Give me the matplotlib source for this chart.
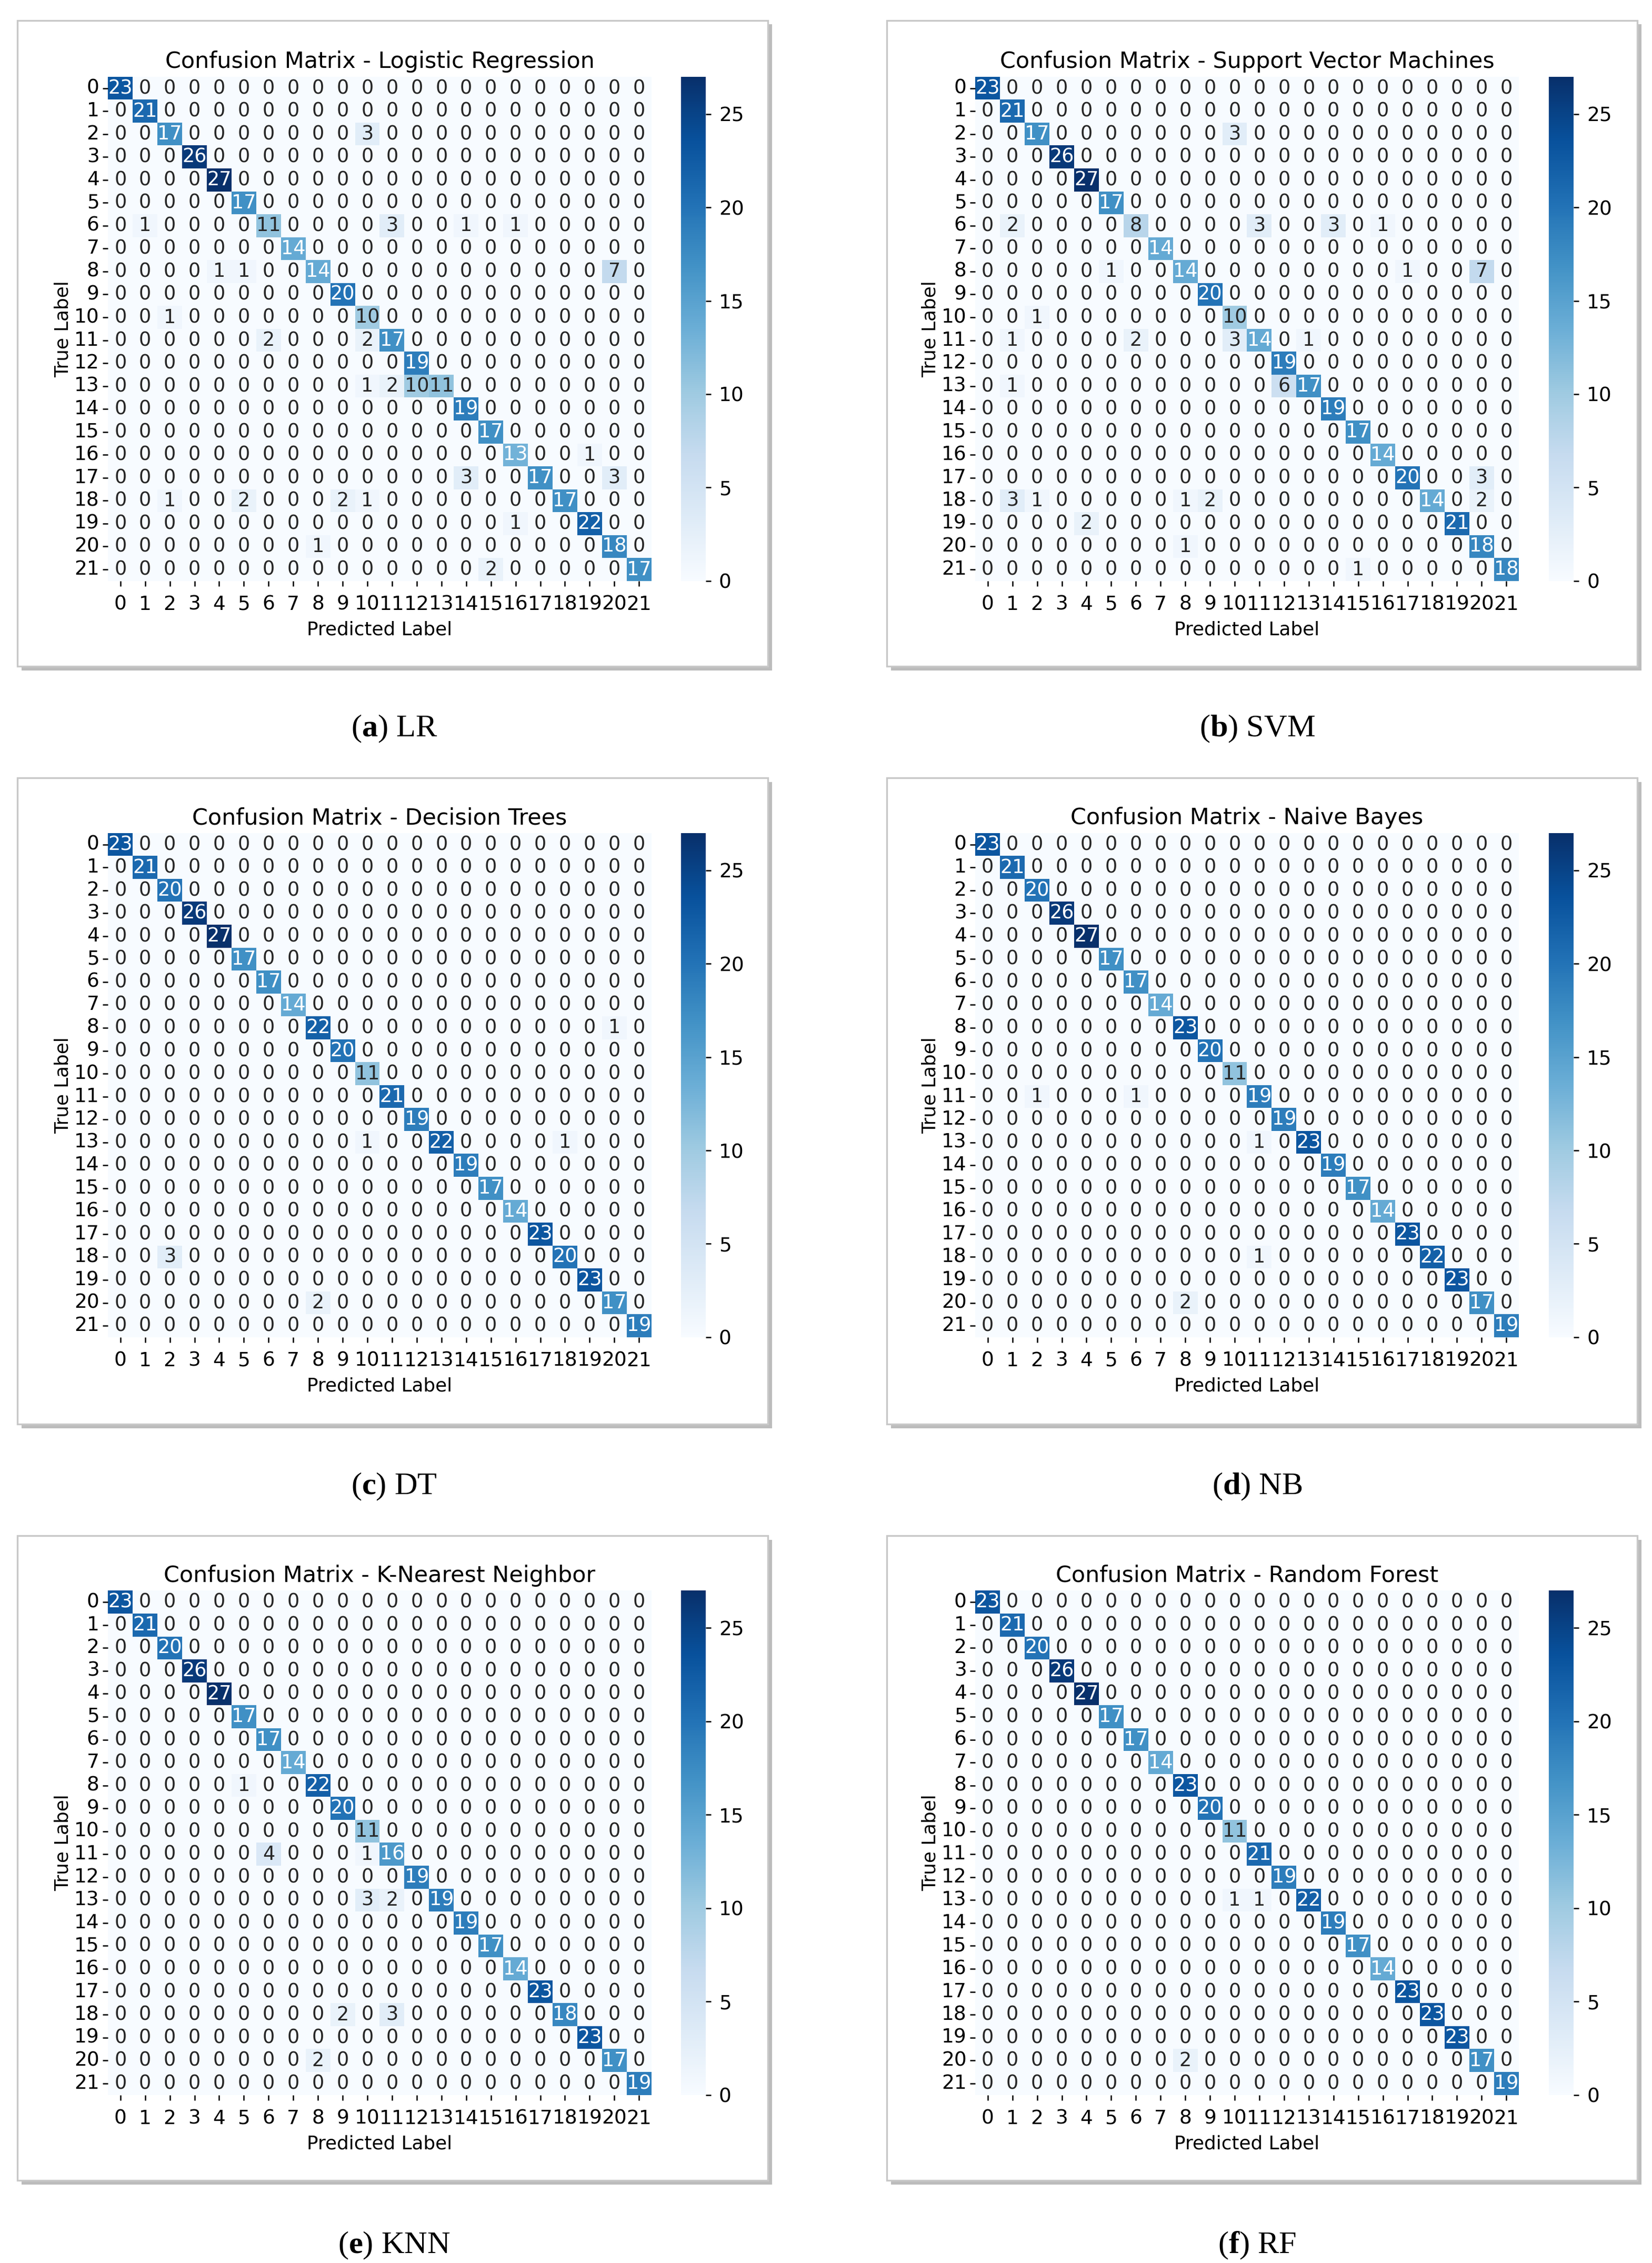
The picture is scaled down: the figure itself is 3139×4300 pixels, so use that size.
import numpy as np
import matplotlib.pyplot as plt
import seaborn as sns
from matplotlib.patches import Rectangle

# Классы 0..21
classes = list(range(22))

# Логистическая регрессия: диагональ и внедиагональные (строка, столбец, значение)
lr_diag = [23, 21, 17, 26, 27, 17, 11, 14, 14, 20, 10, 17, 19, 11, 19, 17, 13, 17, 17, 22, 18, 17]
lr_off = [(2, 10, 3), (6, 1, 1), (6, 11, 3), (6, 14, 1), (6, 16, 1), (8, 4, 1), (8, 5, 1), (8, 20, 7),
          (10, 2, 1), (11, 6, 2), (11, 10, 2), (13, 10, 1), (13, 11, 2), (13, 12, 10), (16, 19, 1),
          (17, 14, 3), (17, 20, 3), (18, 2, 1), (18, 5, 2), (18, 9, 2), (18, 10, 1), (19, 16, 1),
          (20, 8, 1), (21, 15, 2)]

svm_diag = [23, 21, 17, 26, 27, 17, 8, 14, 14, 20, 10, 14, 19, 17, 19, 17, 14, 20, 14, 21, 18, 18]
svm_off = [(2, 10, 3), (6, 1, 2), (6, 11, 3), (6, 14, 3), (6, 16, 1), (8, 5, 1), (8, 17, 1), (8, 20, 7),
           (10, 2, 1), (11, 1, 1), (11, 6, 2), (11, 10, 3), (11, 13, 1), (13, 1, 1), (13, 12, 6),
           (17, 20, 3), (18, 1, 3), (18, 2, 1), (18, 8, 1), (18, 9, 2), (18, 20, 2), (19, 4, 2),
           (20, 8, 1), (21, 15, 1)]

dt_diag = [23, 21, 20, 26, 27, 17, 17, 14, 22, 20, 11, 21, 19, 22, 19, 17, 14, 23, 20, 23, 17, 19]
dt_off = [(8, 20, 1), (13, 10, 1), (13, 18, 1), (18, 2, 3), (20, 8, 2)]

nb_diag = [23, 21, 20, 26, 27, 17, 17, 14, 23, 20, 11, 19, 19, 23, 19, 17, 14, 23, 22, 23, 17, 19]
nb_off = [(11, 2, 1), (11, 6, 1), (13, 11, 1), (18, 11, 1), (20, 8, 2)]

knn_diag = [23, 21, 20, 26, 27, 17, 17, 14, 22, 20, 11, 16, 19, 19, 19, 17, 14, 23, 18, 23, 17, 19]
knn_off = [(8, 5, 1), (11, 6, 4), (11, 10, 1), (13, 10, 3), (13, 11, 2), (18, 9, 2), (18, 11, 3), (20, 8, 2)]

rf_diag = [23, 21, 20, 26, 27, 17, 17, 14, 23, 20, 11, 21, 19, 22, 19, 17, 14, 23, 23, 23, 17, 19]
rf_off = [(13, 10, 1), (13, 11, 1), (20, 8, 2)]

titles = ["Confusion Matrix - Logistic Regression", "Confusion Matrix - Support Vector Machines",
          "Confusion Matrix - Decision Trees", "Confusion Matrix - Naive Bayes",
          "Confusion Matrix - K-Nearest Neighbor", "Confusion Matrix - Random Forest"]
captions = [("a", "LR"), ("b", "SVM"), ("c", "DT"), ("d", "NB"), ("e", "KNN"), ("f", "RF")]
models = [(lr_diag, lr_off), (svm_diag, svm_off), (dt_diag, dt_off),
          (nb_diag, nb_off), (knn_diag, knn_off), (rf_diag, rf_off)]


def build_matrix(diag, off):
    cm = np.diag(diag).astype(int)
    for r, c, v in off:
        cm[r, c] = v
    return cm


plt.rcParams['mathtext.fontset'] = 'custom'
plt.rcParams['mathtext.rm'] = 'Liberation Serif'
plt.rcParams['mathtext.bf'] = 'Liberation Serif:bold'

fig = plt.figure(figsize=(3139 / 300, 4300 / 300), dpi=300)

# Положение панелей (доли фигуры)
col_left = [0.0654, 0.5904]
cbar_left = [0.4123, 0.9377]
frame_x = [(0.0105, 0.4649), (0.5368, 0.9912)]
rows_y = [(0.7433, 0.9661), (0.4091, 0.6319), (0.0743, 0.2971)]
frame_y = [(0.7055, 0.991), (0.3707, 0.6562), (0.0365, 0.3214)]
cap_y = [0.678, 0.3431, 0.0077]
cap_x = [0.2386, 0.761]

for k in range(6):
    r, c = k // 2, k % 2
    # Рамка с тенью
    fx0, fx1 = frame_x[c]
    fy0, fy1 = frame_y[r]
    fig.patches.append(Rectangle((fx0 + 0.0025, fy0 - 0.0018), fx1 - fx0, fy1 - fy0,
                                 transform=fig.transFigure, facecolor='#a0a0a0', edgecolor='none',
                                 alpha=0.7, zorder=-2))
    fig.patches.append(Rectangle((fx0, fy0), fx1 - fx0, fy1 - fy0, transform=fig.transFigure,
                                 facecolor='white', edgecolor='#c8c8c8', linewidth=0.8, zorder=-1))

    y0, y1 = rows_y[r]
    ax = fig.add_axes([col_left[c], y0, 0.3289, y1 - y0])
    cax = fig.add_axes([cbar_left[c], y0, 0.0149, y1 - y0])
    cm = build_matrix(*models[k])
    sns.heatmap(cm, annot=True, fmt='d', cmap='Blues', ax=ax, cbar_ax=cax,
                xticklabels=classes, yticklabels=classes, annot_kws={'fontsize': 8.8})
    ax.set_title(titles[k], fontsize=10.3, pad=4)
    ax.set_xlabel("Predicted Label", fontsize=8.6, labelpad=3)
    ax.set_ylabel("True Label", fontsize=8.6, labelpad=1)
    ax.tick_params(axis='both', labelsize=9, length=2.5, width=0.6, pad=1.5)
    ax.tick_params(axis='x', pad=4)
    ax.set_yticklabels(classes, rotation=0)
    ax.set_xticklabels(classes, rotation=0)
    cax.tick_params(labelsize=9, length=2.5, width=0.6)

    letter, name = captions[k]
    fig.text(cap_x[c], cap_y[r], r"($\mathbf{" + letter + r"}$) " + name, ha='center', va='center',
             fontsize=14.5, family='Liberation Serif')

fig.savefig("out.png", dpi=300)
